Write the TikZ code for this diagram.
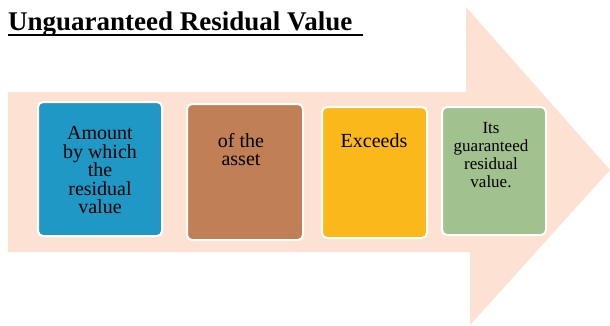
\documentclass[tikz,border=0pt]{standalone}
\usepackage{fontspec}
\setmainfont{Liberation Serif}
\begin{document}
\begin{tikzpicture}[x=1pt,y=-1pt,
  stepbox/.style={draw=white,line width=2pt,rounded corners=5pt,inner sep=0pt},
  boxtext/.style={align=center,font=\fontsize{20}{18.5}\selectfont,inner sep=0pt},
  smalltext/.style={align=center,font=\fontsize{17}{18}\selectfont,inner sep=0pt}]
\definecolor{arrowfill}{HTML}{FDE1D3}
\definecolor{cblue}{HTML}{1F98C5}
\definecolor{cbrown}{HTML}{C17F56}
\definecolor{cyellow}{HTML}{FBB81A}
\definecolor{cgreen}{HTML}{A1C18F}
\useasboundingbox (0,0) rectangle (610,325);
\fill[arrowfill] (8,92) -- (466,92) -- (466,7) -- (610,170) -- (470,325) -- (470,252) -- (8,252) -- cycle;
\node[anchor=base west,inner sep=0pt,font=\fontsize{27}{27}\selectfont\bfseries] (title) at (8,30) {Unguaranteed Residual Value};
\draw[line width=1.4pt] (8,35) -- (363,35);
\path[stepbox,fill=cblue] (38,102) rectangle (162,236);
\node[boxtext,anchor=north] (t1) at (100,126.5) {Amount\\by which\\the\\residual\\value};
\path[stepbox,fill=cbrown] (187,104) rectangle (303,240);
\node[boxtext,anchor=north] (t2) at (241,133) {of the\\asset};
\path[stepbox,fill=cyellow] (322,107) rectangle (427,238);
\node[boxtext,anchor=north] (t3) at (374,133) {Exceeds};
\path[stepbox,fill=cgreen] (442,107) rectangle (546,235);
\node[smalltext,anchor=north] (t4) at (491,122.5) {Its\\guaranteed\\residual\\value.};
\end{tikzpicture}
\end{document}
